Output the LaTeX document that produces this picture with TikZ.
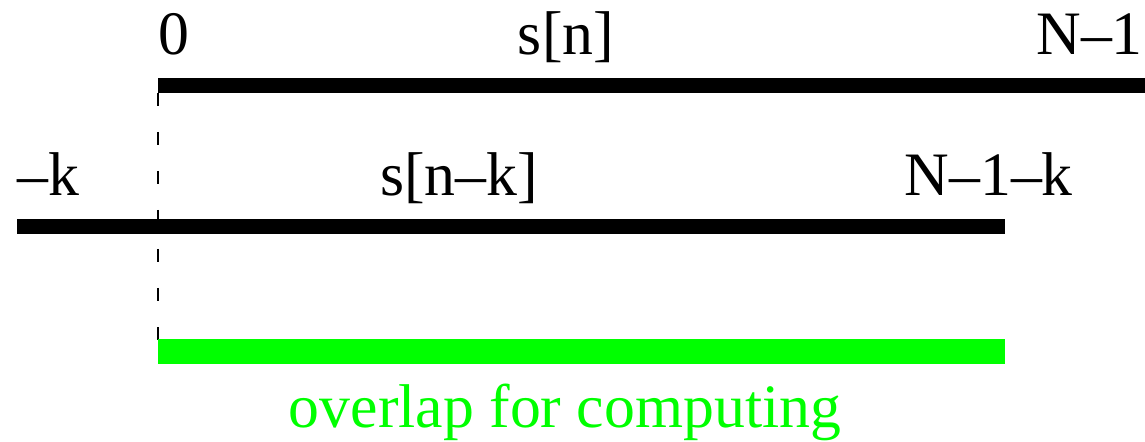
\documentclass[tikz,border=0pt]{standalone}
\usepackage{fontspec}
\setmainfont{Liberation Serif}
\definecolor{brightgreen}{HTML}{00FF00}
\begin{document}
\begin{tikzpicture}[x=1bp,y=-1bp,
  lbl/.style={inner sep=0pt,font=\fontsize{62}{70}\selectfont},
  seg/.style={line width=15bp,line cap=butt},
  overlapbar/.style={line width=25bp,line cap=butt,draw=brightgreen},
  guide/.style={line width=2.5bp,dash pattern=on 13bp off 26bp}]
\useasboundingbox (0,0) rectangle (1145,442);
% coordinates
\coordinate (a0) at (158,85.5);
\coordinate (a1) at (1145,85.5);
\coordinate (b0) at (17,226.5);
\coordinate (b1) at (1005,226.5);
\coordinate (c0) at (158,352);
\coordinate (c1) at (1005,352);
\coordinate (d0) at (158,93);
\coordinate (d1) at (158,352);
% guide
\draw[guide] (d0) -- (d1);
% bars
\draw[seg] (a0) -- (a1);
\draw[seg] (b0) -- (b1);
\draw[overlapbar] (c0) -- (c1);
% labels
\node[lbl,anchor=base west] (zero) at (158,55) {0};
\node[lbl,anchor=base] (sn) at (566,55) {s[n]};
\node[lbl,anchor=base east] (nm1) at (1143,55) {N–1};
\node[lbl,anchor=base west] (mk) at (17,196) {–k};
\node[lbl,anchor=base] (snk) at (459,196) {s[n–k]};
\node[lbl,anchor=base east] (nm1k) at (1073,196) {N–1–k};
\node[lbl,anchor=base,text=brightgreen] (ov) at (565,428) {overlap for computing};
\end{tikzpicture}
\end{document}
